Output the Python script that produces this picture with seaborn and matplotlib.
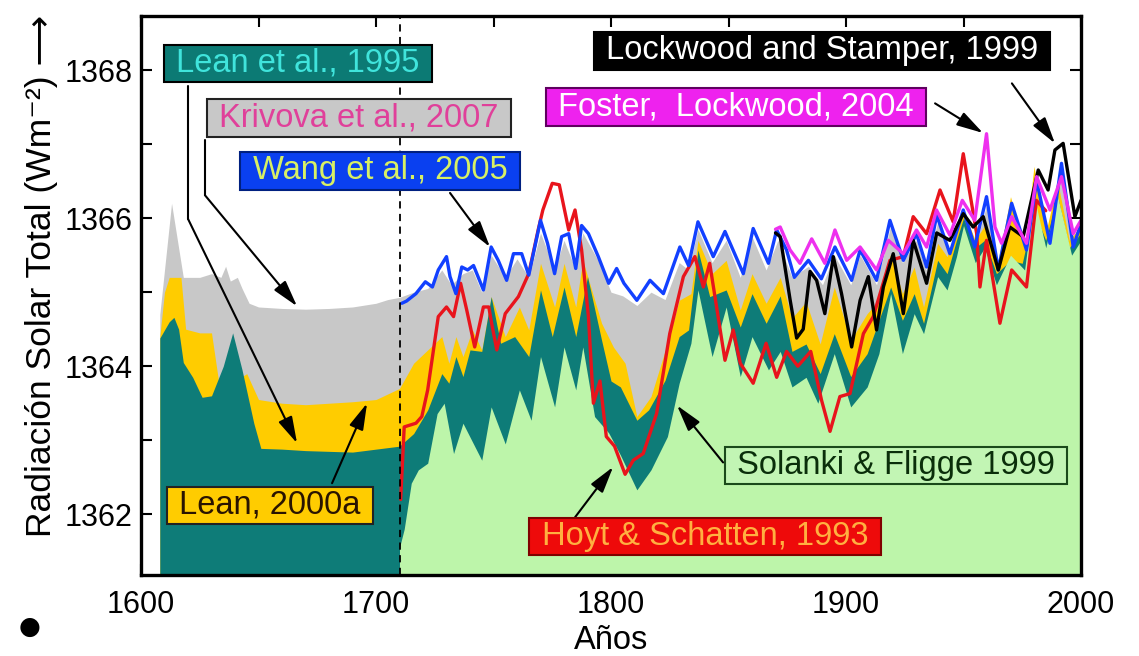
import numpy as np
import pandas as pd
import matplotlib
matplotlib.use("Agg")
import matplotlib.pyplot as plt
import seaborn as sns

# ---------------- data ----------------
krivova_years = [1608, 1610, 1613, 1616, 1618, 1625, 1630, 1634, 1636, 1638, 1641, 1643, 1646, 1650, 1660,
                 1670, 1680, 1690, 1700, 1705, 1710, 1716, 1722, 1728, 1732, 1737, 1741, 1745, 1749, 1755,
                 1760, 1765, 1770, 1776, 1780, 1785, 1788, 1795, 1800, 1805, 1811, 1817, 1823, 1829, 1833,
                 1837, 1843, 1849, 1855, 1860, 1866, 1871, 1877, 1884, 1890, 1895, 1902, 1906, 1913, 1919,
                 1924, 1930, 1934, 1939, 1944, 1950, 1955, 1960, 1965, 1970, 1977, 1981, 1987, 1991, 1996, 2000]
krivova_vals = [1364.7, 1365.3, 1366.2, 1365.6, 1365.2, 1365.2, 1365.25, 1365.2, 1365.35, 1365.15, 1365.2,
                1365.05, 1364.85, 1364.8, 1364.78, 1364.77, 1364.78, 1364.8, 1364.85, 1364.9, 1364.93, 1365.0,
                1365.05, 1365.3, 1365.1, 1365.25, 1365.3, 1365.0, 1365.5, 1365.2, 1365.45, 1365.2, 1365.8,
                1365.3, 1365.7, 1365.3, 1365.8, 1365.4, 1365.0, 1364.95, 1364.82, 1365.0, 1364.9, 1365.4,
                1365.3, 1365.85, 1365.4, 1365.7, 1365.2, 1365.75, 1365.3, 1365.7, 1365.2, 1365.35, 1365.1,
                1365.5, 1365.1, 1365.5, 1365.1, 1365.9, 1365.4, 1365.7, 1365.3, 1365.95, 1365.5, 1366.05,
                1365.6, 1366.2, 1365.3, 1366.1, 1365.6, 1366.45, 1365.7, 1366.6, 1365.65, 1365.85]

lean2000_years = [1608, 1610, 1612, 1617, 1619, 1625, 1630, 1633, 1640, 1645, 1650, 1660, 1670, 1680, 1690,
                  1700, 1710, 1716, 1722, 1728, 1731, 1734, 1737, 1741, 1745, 1749, 1755, 1761, 1765, 1770,
                  1776, 1780, 1785, 1788, 1796, 1801, 1806, 1811, 1817, 1824, 1829, 1834, 1837, 1843, 1849,
                  1855, 1860, 1866, 1872, 1877, 1883, 1889, 1895, 1902, 1909, 1914, 1919, 1924, 1929, 1933,
                  1939, 1943, 1947, 1950, 1955, 1959, 1964, 1970, 1976, 1980, 1985, 1990, 1995, 2000]
lean2000_vals = [1364.4, 1365.0, 1365.2, 1365.2, 1364.5, 1364.45, 1364.45, 1363.8, 1363.8, 1363.9, 1363.55,
                 1363.5, 1363.48, 1363.5, 1363.52, 1363.55, 1363.7, 1364.04, 1364.22, 1364.4, 1364.04, 1364.4,
                 1364.13, 1364.49, 1364.22, 1364.94, 1364.4, 1364.8, 1364.49, 1365.39, 1364.8, 1365.39, 1364.8,
                 1365.43, 1364.58, 1364.26, 1364.04, 1363.32, 1363.59, 1364.31, 1364.89, 1364.98, 1365.7,
                 1365.25, 1365.43, 1364.76, 1365.25, 1364.85, 1365.2, 1364.65, 1364.87, 1364.3, 1365.07,
                 1364.35, 1364.71, 1364.89, 1365.52, 1364.98, 1365.34, 1364.8, 1365.66, 1365.48, 1365.88,
                 1366.1, 1365.7, 1365.9, 1365.3, 1366.29, 1365.6, 1366.7, 1365.8, 1366.5, 1365.7, 1365.9]

lean1995_years = [1608, 1612, 1614, 1616, 1618, 1622, 1626, 1630, 1635, 1639, 1643, 1648, 1651, 1660, 1670,
                  1680, 1690, 1700, 1710, 1711, 1716, 1722, 1728, 1731, 1734, 1737, 1740, 1745, 1749, 1753,
                  1759, 1765, 1770, 1775, 1780, 1785, 1790, 1796, 1800, 1804, 1811, 1816, 1823, 1829, 1833,
                  1837, 1842, 1849, 1855, 1860, 1866, 1872, 1877, 1883, 1889, 1895, 1902, 1909, 1914, 1919,
                  1924, 1929, 1933, 1939, 1943, 1947, 1950, 1955, 1959, 1964, 1970, 1975, 1980, 1985, 1990,
                  1995, 2000]
lean1995_vals = [1364.38, 1364.6, 1364.66, 1364.5, 1364.05, 1363.85, 1363.58, 1363.6, 1364.0, 1364.45,
                 1363.95, 1363.23, 1362.89, 1362.88, 1362.86, 1362.85, 1362.84, 1362.88, 1362.92, 1362.95,
                 1363.09, 1363.41, 1363.9, 1363.77, 1364.13, 1363.86, 1364.22, 1364.2, 1364.94, 1364.31,
                 1364.4, 1364.13, 1365.03, 1364.4, 1365.07, 1364.4, 1365.21, 1364.35, 1363.8, 1363.72,
                 1363.27, 1363.41, 1363.81, 1364.4, 1364.49, 1365.57, 1364.94, 1365.03, 1364.53, 1364.98,
                 1364.58, 1364.95, 1364.2, 1364.3, 1363.9, 1364.44, 1363.86, 1364.17, 1364.62, 1365.07,
                 1364.62, 1364.98, 1364.58, 1365.43, 1365.25, 1365.7, 1366.0, 1365.6, 1365.7, 1365.25,
                 1365.43, 1365.39, 1366.1, 1365.7, 1366.3, 1365.6, 1365.8]

solanki_years = [1710, 1712, 1715, 1718, 1722, 1726, 1729, 1733, 1737, 1745, 1749, 1755, 1761, 1766, 1770,
                 1776, 1780, 1785, 1788, 1793, 1799, 1804, 1811, 1817, 1824, 1829, 1834, 1837, 1843, 1849,
                 1855, 1860, 1867, 1872, 1877, 1883, 1888, 1895, 1902, 1909, 1914, 1919, 1924, 1929, 1933,
                 1939, 1943, 1947, 1950, 1955, 1959, 1964, 1970, 1976, 1980, 1985, 1990, 1996, 2000]
solanki_vals = [1361.55, 1361.8, 1362.42, 1362.6, 1362.69, 1363.36, 1363.5, 1362.82, 1363.23, 1362.73,
                1363.45, 1362.95, 1363.68, 1363.27, 1364.13, 1363.45, 1364.26, 1363.68, 1364.26, 1363.32,
                1363.1, 1362.8, 1362.33, 1362.6, 1363.05, 1363.77, 1364.31, 1365.03, 1364.13, 1364.8,
                1363.86, 1364.4, 1363.95, 1364.2, 1363.72, 1363.85, 1363.5, 1364.17, 1363.45, 1363.72,
                1364.17, 1364.98, 1364.17, 1364.71, 1364.44, 1365.21, 1365.03, 1365.48, 1365.9, 1365.4,
                1365.6, 1365.1, 1365.5, 1365.3, 1366.3, 1365.6, 1366.3, 1365.5, 1365.7]

wang_years = [1711, 1713, 1717, 1721, 1724, 1726.5, 1730, 1731.5, 1734, 1736.5, 1739, 1741.5, 1745.7, 1749,
              1752, 1755.6, 1758.5, 1762, 1765, 1770, 1773, 1776, 1779, 1782, 1785, 1787.5, 1790.4, 1794.6,
              1799, 1802.4, 1805.5, 1811, 1816.6, 1822.3, 1829.3, 1833, 1837, 1843.5, 1848.5, 1856.3, 1860.5,
              1867, 1870.5, 1874.7, 1878, 1884, 1889.5, 1895.3, 1902.4, 1906, 1913, 1918.7, 1924.4, 1930,
              1934.3, 1938.6, 1944.2, 1949.9, 1954.8, 1959.8, 1964.8, 1970.5, 1976.8, 1981.1, 1986.8, 1991.7,
              1996.7, 1999.5]
wang_vals = [1364.85, 1364.88, 1364.98, 1365.14, 1365.07, 1365.3, 1365.48, 1365.21, 1364.98, 1365.34, 1365.3,
             1365.36, 1365.03, 1365.61, 1365.43, 1365.16, 1365.52, 1365.52, 1365.23, 1365.97, 1365.66, 1365.25,
             1365.75, 1365.79, 1365.32, 1365.9, 1365.79, 1365.48, 1365.12, 1365.32, 1365.12, 1364.89, 1365.16,
             1364.98, 1365.61, 1365.36, 1365.95, 1365.48, 1365.82, 1365.25, 1365.86, 1365.39, 1365.84, 1365.57,
             1365.2, 1365.43, 1365.18, 1365.61, 1365.16, 1365.57, 1365.16, 1365.97, 1365.43, 1365.79, 1365.34,
             1366.04, 1365.52, 1366.11, 1365.61, 1366.29, 1365.3, 1366.2, 1365.57, 1366.51, 1365.66, 1366.74,
             1365.61, 1365.88]

hoyt_years = [1710.5, 1712, 1717, 1719.5, 1722, 1726.5, 1730, 1733, 1736, 1738.6, 1742, 1745.7, 1748, 1749.2,
              1751.4, 1755, 1760.6, 1765, 1769, 1771, 1775, 1778, 1782, 1784.7, 1787.5, 1790.4, 1792.5, 1795.3,
              1798, 1801.5, 1806, 1809.5, 1813.7, 1819.4, 1825, 1830.8, 1835.7, 1839.3, 1842, 1848.5, 1852,
              1855, 1860.5, 1866, 1870.5, 1874.7, 1879.5, 1885, 1889.6, 1893.2, 1897.4, 1901.7, 1907.4, 1911.6,
              1918.7, 1924.4, 1928.6, 1934.3, 1940, 1945.6, 1949.9, 1955.6, 1957, 1959.8, 1965.5, 1970.5,
              1976.8, 1981, 1985]
hoyt_vals = [1362.2, 1363.18, 1363.23, 1363.32, 1363.68, 1364.67, 1364.8, 1364.67, 1365.12, 1364.76, 1364.26,
             1364.8, 1364.8, 1364.58, 1364.22, 1364.71, 1364.94, 1365.25, 1365.84, 1366.11, 1366.47, 1366.45,
             1365.84, 1366.11, 1365.57, 1364.67, 1363.5, 1363.8, 1363.05, 1362.92, 1362.54, 1362.73, 1362.82,
             1363.36, 1364.44, 1365.21, 1365.48, 1365.07, 1365.39, 1364.08, 1364.49, 1364.04, 1363.77, 1364.31,
             1363.85, 1364.2, 1364.0, 1364.2, 1363.54, 1363.12, 1363.59, 1363.63, 1364.44, 1364.67, 1365.43,
             1365.48, 1366.02, 1365.79, 1366.38, 1365.95, 1366.87, 1365.79, 1365.07, 1365.7, 1364.58, 1365.3,
             1365.07, 1366.24, 1366.1]

lockwood_years = [1870, 1872, 1876.2, 1879, 1881.8, 1884.7, 1887.5, 1891, 1894.6, 1898.1, 1902.4, 1906,
                  1909.5, 1913, 1915.9, 1920.1, 1924.4, 1928.6, 1934.3, 1938.6, 1944.2, 1949.9, 1954.1, 1958.4,
                  1964.8, 1969.7, 1975.4, 1981.8, 1986, 1988.9, 1992.4, 1997.4, 2000]
lockwood_vals = [1365.8, 1365.75, 1364.9, 1364.38, 1364.5, 1365.28, 1365.16, 1364.71, 1365.48, 1364.98,
                 1364.26, 1364.89, 1365.21, 1364.49, 1365.07, 1365.52, 1364.71, 1365.7, 1365.12, 1365.8,
                 1365.7, 1366.06, 1365.88, 1366.02, 1365.3, 1365.88, 1365.75, 1366.65, 1366.38, 1366.92,
                 1367.01, 1366.02, 1366.24]

foster_years = [1870, 1872, 1876.2, 1880.4, 1885.4, 1891, 1895.3, 1900.3, 1906, 1913, 1918, 1924.4, 1930,
                1934.3, 1938.5, 1944.2, 1949.5, 1954.8, 1959.8, 1963.4, 1966.2, 1970.5, 1976.8, 1981.1, 1986.8,
                1991.7, 1996.7, 2000]
foster_vals = [1365.85, 1365.88, 1365.57, 1365.39, 1365.72, 1365.39, 1365.84, 1365.43, 1365.61, 1365.3,
               1365.7, 1365.52, 1365.84, 1365.61, 1366.11, 1365.77, 1366.24, 1365.97, 1367.14, 1365.88,
               1365.66, 1366.02, 1365.66, 1366.56, 1366.11, 1366.56, 1365.79, 1365.97]

x_ticks_major = [1600, 1700, 1800, 1900, 2000]
y_ticks_major = [1362, 1364, 1366, 1368]

# label text, box centre (year, W/m2), face colour, text colour, edge colour
labels = ["Lean et al., 1995", "Krivova et al., 2007", "Wang et al., 2005", "Lockwood and Stamper, 1999",
          "Foster,  Lockwood, 2004", "Lean, 2000a", "Solanki & Fligge 1999", "Hoyt & Schatten, 1993"]
label_pos = [(1666.8, 1368.09), (1692.8, 1367.35), (1701.7, 1366.64), (1889.8, 1368.26),
             (1853.2, 1367.50), (1654.9, 1362.12), (1921.3, 1362.66), (1840.0, 1361.70)]
label_face = ["#0c7a74", "#c8c8c8", "#0a40f0", "#000000", "#ee22ee", "#ffcc00", "#c2f5b4", "#ee0a0a"]
label_text = ["#40e4dc", "#e0409a", "#d8f064", "#ffffff", "#ffffff", "#2a1400", "#0a2e0a", "#ffb040"]
label_edge = ["#000000", "#222222", "#002080", "#000000", "#600060", "#222222", "#1a4a1a", "#800000"]
# arrows: start (year, W/m2), optional bend, tip
arrow_start = [(1620.0, 1367.78), (1627.2, 1367.05), (1731.5, 1366.34), (1970.6, 1367.82),
               (1937.9, 1367.55), (1681.3, 1362.42), (1847.7, 1362.70), (1784.7, 1361.96)]
arrow_bend = [(1620.0, 1365.99), (1627.2, 1366.31), None, None, None, None, None, None]
arrow_tip = [(1666.4, 1362.96), (1666.4, 1364.81), (1748.5, 1365.61), (1988.9, 1367.01),
             (1958.3, 1367.15), (1696.2, 1363.50), (1828.1, 1363.47), (1800.9, 1362.64)]

# ---------------- style ----------------
sns.set_theme(style="ticks")
plt.rcParams["font.family"] = ["Liberation Sans", "DejaVu Sans"]
plt.rcParams["text.color"] = "black"
plt.rcParams["axes.labelcolor"] = "black"

YMIN, YMAX = 1361.18, 1368.73
XMIN, XMAX = 1600, 2000

fig = plt.figure(figsize=(11.39, 6.56), dpi=100)
ax = fig.add_axes([141 / 1139, 1 - 575 / 656, 940 / 1139, 559 / 656])

# fills
fills = [(krivova_years, krivova_vals, "#c8c8c8"),
         (lean2000_years, lean2000_vals, "#ffcc00"),
         (lean1995_years, lean1995_vals, "#0e7c78"),
         (solanki_years, solanki_vals, "#bdf5aa")]
for yrs, vals, col in fills:
    ax.fill_between(yrs, vals, YMIN - 1, color=col, linewidth=0, zorder=1)

# lines
lines = [(hoyt_years, hoyt_vals, "#e8141c"),
         (wang_years, wang_vals, "#1240ff"),
         (lockwood_years, lockwood_vals, "#000000"),
         (foster_years, foster_vals, "#ee30ee")]
for i, (yrs, vals, col) in enumerate(lines):
    df = pd.DataFrame({"year": yrs, "tsi": vals})
    sns.lineplot(data=df, x="year", y="tsi", ax=ax, color=col, linewidth=2.4,
                 estimator=None, sort=False, zorder=3 + i)

ax.axvline(1710, color="black", linestyle=(0, (4, 3)), linewidth=1.3, zorder=8)

# annotations
for i, txt in enumerate(labels):
    ax.text(label_pos[i][0], label_pos[i][1], " " + txt + " ", ha="center", va="center",
            fontsize=23.5, color=label_text[i], zorder=12,
            bbox=dict(boxstyle="square,pad=0.1", facecolor=label_face[i],
                      edgecolor=label_edge[i], linewidth=1.5))
    start = arrow_start[i]
    if arrow_bend[i] is not None:
        ax.plot([start[0], arrow_bend[i][0]], [start[1], arrow_bend[i][1]], color="black",
                linewidth=1.5, zorder=10)
        start = arrow_bend[i]
    ax.annotate("", xy=arrow_tip[i], xytext=start, zorder=10,
                arrowprops=dict(arrowstyle="-|>,head_length=0.9,head_width=0.25", color="black",
                                linewidth=1.5, mutation_scale=18, shrinkA=0, shrinkB=0))

# axes
ax.set_xlim(XMIN, XMAX)
ax.set_ylim(YMIN, YMAX)
ax.set_xticks(x_ticks_major)
ax.set_xticks([1650, 1750, 1850, 1950], minor=True)
ax.set_yticks(y_ticks_major)
ax.set_yticks([1363, 1365, 1367], minor=True)
ax.set_xticklabels([str(v) for v in x_ticks_major])
ax.set_yticklabels([str(v) for v in y_ticks_major])
ax.tick_params(axis="both", which="both", direction="in", length=8, width=1.5,
               top=True, right=True, labelsize=22, colors="black")
ax.tick_params(axis="x", which="major", pad=11)
ax.tick_params(axis="y", which="major", pad=6)
for s in ax.spines.values():
    s.set_linewidth(2.4)
    s.set_color("black")
    s.set_zorder(20)
ax.set_facecolor("white")

ax.set_xlabel("Años", fontsize=23.5, color="black")
ax.set_ylabel("Radiación Solar Total (Wm\u207b\u00b2) \u27f6", fontsize=25.5, color="black")
ax.xaxis.set_label_coords(0.5, -0.089)
ax.yaxis.set_label_coords(-0.088, 0.535)

fig.text(30 / 1139, 1 - 627 / 656, "●", ha="center", va="center", fontsize=18, color="black",
         family=["DejaVu Sans"])

fig.savefig("out.png", dpi=100, facecolor="white")
